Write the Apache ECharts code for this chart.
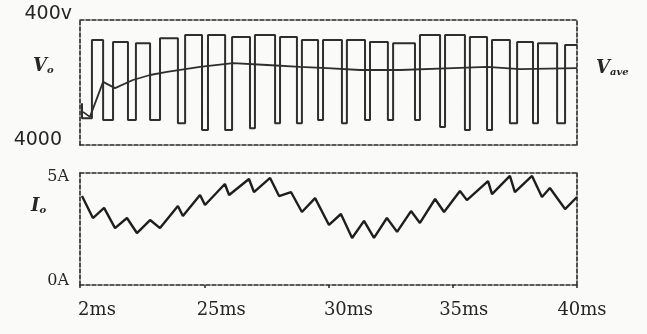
<!DOCTYPE html>
<html>
<head>
<meta charset="utf-8">
<script src="https://cdn.jsdelivr.net/npm/echarts@6/dist/echarts.min.js"></script>
<style>
html, body { margin: 0; padding: 0; background: #fafaf8; }
#main { width: 647px; height: 334px; }
</style>
</head>
<body>
<div id="main"></div>
<script>
// time axis (ms)
var xTickLabels = ['2ms', '25ms', '30ms', '35ms', '40ms'];
var vTickLabels = { 0: '4000', 400: '400v' };
var iTickLabels = { 0: '0A', 5: '5A' };

// Vo trace start (ms, V)
var startT = 20.08;
var startV = [134, 86];
// Vo pulses: rise / fall time (ms), top level, level after the fall (V)
var riseT = [20.48, 21.33, 22.25, 23.22, 24.23, 25.15, 26.12, 27.04, 28.05, 28.93, 29.78,
             30.74, 31.67, 32.60, 33.68, 34.69, 35.69, 36.58, 37.59, 38.43, 39.52];
var fallT = [20.93, 21.93, 22.82, 23.94, 24.91, 25.84, 26.84, 27.85, 28.73, 29.58, 30.54,
             31.47, 32.39, 33.48, 34.49, 35.49, 36.38, 37.30, 38.23, 39.20, 40.0];
var highV = [336, 330, 326, 342, 352, 352, 346, 352, 346, 336, 336,
             336, 330, 326, 352, 352, 346, 336, 330, 326, 320];
var lowV  = [80, 80, 80, 70, 48, 48, 54, 70, 70, 80, 70,
             80, 80, 80, 58, 48, 48, 70, 70, 70];

// Vave
var aveT = [20.12, 20.40, 20.93, 21.41, 22.13, 22.82, 23.50, 24.83, 26.16, 27.53, 28.85,
            29.94, 31.27, 32.88, 35.01, 36.38, 37.71, 40.0];
var aveV = [106, 90, 202, 182, 208, 224, 234, 250, 262, 256, 250,
            246, 240, 240, 246, 250, 243, 246];

// Io
var ioT = [20.08, 20.52, 20.97, 21.41, 21.89, 22.29, 22.82, 23.22, 23.94, 24.14, 24.83,
           25.03, 25.83, 26.00, 26.80, 27.00, 27.65, 28.01, 28.49, 28.93, 29.46, 30.02,
           30.50, 30.95, 31.43, 31.83, 32.35, 32.76, 33.32, 33.68, 34.29, 34.65, 35.29,
           35.57, 36.42, 36.58, 37.30, 37.50, 38.19, 38.59, 38.91, 39.52, 40.0];
var ioA = [3.97, 2.99, 3.44, 2.54, 2.99, 2.32, 2.90, 2.54, 3.53, 3.08, 4.02,
           3.57, 4.51, 4.02, 4.73, 4.15, 4.78, 3.97, 4.15, 3.26, 3.88, 2.68,
           3.17, 2.10, 2.86, 2.10, 2.99, 2.37, 3.30, 2.77, 3.84, 3.26, 4.20,
           3.79, 4.64, 4.06, 4.87, 4.15, 4.87, 3.93, 4.33, 3.39, 3.93];

var voData = [[startT, startV[0]], [startT, startV[1]]];
riseT.forEach(function (t, i) {
	var prev = i === 0 ? startV[1] : lowV[i - 1];
	voData.push([t, prev], [t, highV[i]], [fallT[i], highV[i]]);
	if (lowV[i] !== undefined) voData.push([fallT[i], lowV[i]]);
});
var aveData = aveT.map(function (t, i) { return [t, aveV[i]]; });
var ioData = ioT.map(function (t, i) { return [t, ioA[i]]; });

var ink = '#262626';
var dash = { show: true, onZero: false, lineStyle: { color: ink, width: 1.6, type: [4, 2] } };
var xOffsets = [34, 34, 40, 22, 10];

function xAxisOf(grid, pos, labels) {
	return {
		gridIndex: grid, type: 'value', position: pos, min: 20, max: 40, interval: 5,
		axisLine: dash,
		axisTick: { show: labels, length: 3, lineStyle: { color: ink, width: 1.5 } },
		splitLine: { show: false },
		axisLabel: {
			show: labels, margin: 16,
			formatter: function (v) {
				var k = Math.round((v - 20) / 5);
				return '{l' + k + '|' + xTickLabels[k] + '}';
			},
			rich: {
				l0: { padding: [0, 0, 0, xOffsets[0]], fontFamily: 'DejaVu Serif', fontSize: 18, color: ink },
				l1: { padding: [0, 0, 0, xOffsets[1]], fontFamily: 'DejaVu Serif', fontSize: 18, color: ink },
				l2: { padding: [0, 0, 0, xOffsets[2]], fontFamily: 'DejaVu Serif', fontSize: 18, color: ink },
				l3: { padding: [0, 0, 0, xOffsets[3]], fontFamily: 'DejaVu Serif', fontSize: 18, color: ink },
				l4: { padding: [0, 0, 0, xOffsets[4]], fontFamily: 'DejaVu Serif', fontSize: 18, color: ink }
			}
		}
	};
}

function yAxisOf(grid, pos, max, labelOpt) {
	return {
		gridIndex: grid, type: 'value', position: pos, min: 0, max: max, interval: max,
		axisLine: dash, axisTick: { show: false }, splitLine: { show: false },
		axisLabel: labelOpt || { show: false }
	};
}

var sub = {
	v: { fontFamily: 'DejaVu Serif', fontStyle: 'italic', fontWeight: 'bold', fontSize: 18, color: ink, lineHeight: 20, verticalAlign: 'bottom' },
	s: { fontFamily: 'DejaVu Serif', fontStyle: 'italic', fontWeight: 'bold', fontSize: 10, color: ink, lineHeight: 9, verticalAlign: 'bottom' }
};

var mychart = echarts.init(document.getElementById('main'));
var option = {
	backgroundColor: '#fafaf8',
	animation: false,
	title: [
		{ text: '{v|V}{s|o}', left: 33, top: 55, padding: 0, textStyle: { rich: sub } },
		{ text: '{v|V}{s|ave}', left: 596, top: 57, padding: 0, textStyle: { rich: sub } },
		{ text: '{v|I}{s|o}', left: 31, top: 195, padding: 0, textStyle: { rich: sub } }
	],
	grid: [
		{ left: 80, top: 20, width: 497, height: 125 },
		{ left: 80, top: 173, width: 497, height: 112 }
	],
	xAxis: [
		xAxisOf(0, 'bottom', false),
		xAxisOf(0, 'top', false),
		xAxisOf(1, 'bottom', true),
		xAxisOf(1, 'top', false)
	],
	yAxis: [
		yAxisOf(0, 'left', 400, {
			margin: 8,
			formatter: function (v) { return v === 400 ? '{a|' + vTickLabels[v] + '}' : '{b|' + vTickLabels[v] + '}'; },
			rich: {
				a: { padding: [0, 0, 12, 0], fontFamily: 'DejaVu Sans', fontSize: 19, color: ink },
				b: { padding: [0, 10, 10, 0], fontFamily: 'DejaVu Sans', fontSize: 19, color: ink }
			}
		}),
		yAxisOf(0, 'right', 400),
		yAxisOf(1, 'left', 5, {
			margin: 11,
			formatter: function (v) { return v === 5 ? '{a|' + iTickLabels[v] + '}' : '{b|' + iTickLabels[v] + '}'; },
			rich: {
				a: { padding: [8, 0, 0, 0], fontFamily: 'DejaVu Serif', fontSize: 16, color: ink },
				b: { padding: [0, 0, 8, 0], fontFamily: 'DejaVu Serif', fontSize: 16, color: ink }
			}
		}),
		yAxisOf(1, 'right', 5)
	],
	series: [
		{ name: 'Vo', type: 'line', xAxisIndex: 0, yAxisIndex: 0, data: voData,
		  showSymbol: false, lineStyle: { color: '#2e2e2e', width: 2 } },
		{ name: 'Vave', type: 'line', xAxisIndex: 0, yAxisIndex: 0, data: aveData,
		  showSymbol: false, lineStyle: { color: '#2e2e2e', width: 1.8 } },
		{ name: 'Io', type: 'line', xAxisIndex: 2, yAxisIndex: 2, data: ioData,
		  showSymbol: false, lineStyle: { color: '#1e1e1e', width: 2.4 } }
	]
};
mychart.setOption(option);
</script>
</body>
</html>
